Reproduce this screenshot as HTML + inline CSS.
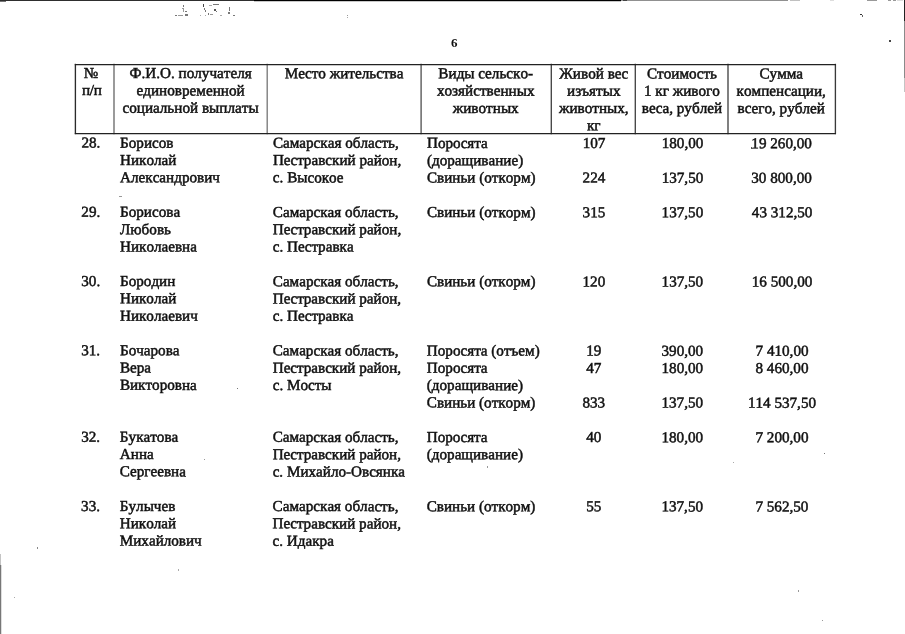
<!DOCTYPE html>
<html lang="ru"><head><meta charset="utf-8"><title>6</title>
<style>
html,body{margin:0;padding:0;background:#fff}
body{width:905px;height:634px;position:relative;overflow:hidden;font-family:"Liberation Serif","DejaVu Serif",serif;color:#111}
.t{position:absolute;font-size:15.15px;line-height:17px;white-space:nowrap;font-kerning:none;-webkit-text-stroke:0.5px #111;transform-origin:0 0}
.c{text-align:center;width:300px}
.h{font-size:15.2px}
.pp{letter-spacing:-0.3px}
.pn{position:absolute;width:300px;text-align:center;font-size:13px;font-weight:bold;line-height:14px}
.grid{position:absolute;left:0;top:0}
.rot{position:absolute;left:0;top:0;width:905px;height:634px;transform-origin:80px 140px;transform:rotate(0.045deg)}
</style></head><body>
<svg class="grid" width="905" height="634" viewBox="0 0 905 634" shape-rendering="crispEdges">
<rect x="0" y="0" width="254" height="1" fill="#2e2e2e"/>
<rect x="254" y="0" width="367" height="1" fill="#000"/>
<rect x="0" y="1" width="6" height="1" fill="#777"/>
<rect x="254" y="1" width="367" height="1" fill="#c8c8c8"/>
<rect x="623" y="0" width="4" height="1" fill="#444"/>
<rect x="621" y="0" width="2" height="1" fill="#999"/>
<rect x="627" y="0" width="161" height="1" fill="#909090"/>
<rect x="790" y="0" width="10" height="1" fill="#c0c0c0"/>
<rect x="830" y="0" width="4" height="1" fill="#ddd"/>
<rect x="867" y="0" width="10" height="1" fill="#999"/>
<rect x="888" y="0" width="3" height="1" fill="#999"/>
<rect x="893" y="0" width="3" height="1" fill="#999"/>
<rect x="897" y="0" width="6" height="1" fill="#ddd"/>
<rect x="904" y="0" width="1" height="21" fill="#222"/>
<rect x="904" y="21" width="1" height="57" fill="#8a8a8a"/>
<rect x="904" y="78" width="1" height="14" fill="#c4c4c4"/>
<rect x="0" y="554" width="1" height="11" fill="#c4c4c4"/>
<rect x="0" y="565" width="1" height="69" fill="#777"/>
<rect x="1" y="565" width="1" height="69" fill="#ddd"/>
<g fill="#777">
<rect x="175" y="15" width="2" height="1"/><rect x="178" y="15" width="5" height="1" fill="#999"/><rect x="185" y="14" width="3" height="2"/>
<rect x="183" y="5" width="1" height="2"/><rect x="182" y="8" width="2" height="1" fill="#999"/><rect x="183" y="9" width="1" height="3" fill="#999"/><rect x="185" y="11" width="2" height="1"/>
<rect x="203" y="4" width="1" height="3" fill="#444"/><rect x="204" y="8" width="1" height="2"/><rect x="205" y="10" width="1" height="2"/>
<rect x="209" y="5" width="3" height="1" fill="#aaa"/><rect x="213" y="4" width="6" height="1"/><rect x="214" y="9" width="2" height="2" fill="#555"/><rect x="216" y="11" width="1" height="1"/>
<rect x="208" y="13" width="1" height="2"/><rect x="210" y="14" width="3" height="1" fill="#999"/><rect x="200" y="15" width="1" height="1" fill="#aaa"/><rect x="205" y="15" width="1" height="1" fill="#aaa"/>
<rect x="220" y="15" width="2" height="1" fill="#aaa"/><rect x="229" y="7" width="1" height="4"/><rect x="228" y="12" width="2" height="2"/><rect x="233" y="15" width="2" height="1"/>
<rect x="347" y="15" width="1" height="1" fill="#999"/><rect x="347" y="17" width="1" height="1" fill="#aaa"/>
<rect x="860" y="14" width="2" height="1" fill="#333"/><rect x="862" y="15" width="1" height="2" fill="#666"/>
<rect x="889" y="40" width="2" height="2" fill="#444"/>
<rect x="119" y="196" width="3" height="1" fill="#999"/>
<rect x="237" y="388" width="1" height="1"/><rect x="487" y="466" width="1" height="2" fill="#999"/>
<rect x="824" y="453" width="1" height="1"/><rect x="733" y="462" width="1" height="1" fill="#aaa"/>
<rect x="798" y="590" width="1" height="2" fill="#999"/><rect x="822" y="620" width="1" height="1" fill="#999"/>
<rect x="37" y="547" width="1" height="2" fill="#888"/><rect x="14" y="597" width="1" height="1" fill="#aaa"/>
<rect x="178" y="569" width="1" height="2" fill="#aaa"/><rect x="204" y="459" width="1" height="1" fill="#999"/>
<rect x="751" y="147" width="1" height="2" fill="#555"/><rect x="752" y="148" width="1" height="1" fill="#999"/>
</g>
</svg>
<svg class="grid" width="905" height="634" viewBox="0 0 905 634">
<line x1="75.4" y1="63.800000000000004" x2="75.4" y2="134.15" stroke="#2b2b2b" stroke-width="1.35"/>
<line x1="114.0" y1="63.800000000000004" x2="114.0" y2="134.15" stroke="#6a6a6a" stroke-width="1.35"/>
<line x1="267.2" y1="63.800000000000004" x2="267.2" y2="134.15" stroke="#7a7a7a" stroke-width="1.35"/>
<line x1="421.1" y1="63.800000000000004" x2="421.1" y2="134.15" stroke="#555" stroke-width="1.35"/>
<line x1="551.3" y1="63.800000000000004" x2="551.3" y2="134.15" stroke="#444" stroke-width="1.35"/>
<line x1="635.3" y1="63.800000000000004" x2="635.3" y2="134.15" stroke="#444" stroke-width="1.35"/>
<line x1="728" y1="63.800000000000004" x2="728" y2="134.15" stroke="#444" stroke-width="1.35"/>
<line x1="835.4" y1="63.800000000000004" x2="835.4" y2="134.15" stroke="#3a3a3a" stroke-width="1.35"/>
<line x1="74.80000000000001" y1="64.5" x2="836.0" y2="64.5" stroke="#222" stroke-width="1.25"/>
<line x1="74.80000000000001" y1="133.65" x2="836.0" y2="133.65" stroke="#222" stroke-width="1.25"/>
</svg>
<span class="pn" style="left:304px;top:36px;transform:translate(0.25px,0.4px) rotate(0.001deg)">6</span>
<div class="rot">
<span class="t c h" style="left:-59px;top:64px;transform:translate(0.05px,0.00px)">№</span>
<span class="t c h pp" style="left:-59px;top:80px;transform:translate(0.65px,0.90px)">п/п</span>
<span class="t c h" style="left:40px;top:64px;transform:translate(0.50px,0.00px)">Ф.И.О. получателя</span>
<span class="t c h" style="left:40px;top:81px;transform:translate(0.50px,0.30px)">единовременной</span>
<span class="t c h" style="left:40px;top:98px;transform:translate(0.50px,0.60px)">социальной выплаты</span>
<span class="t c h" style="left:194px;top:64px;transform:translate(0.00px,0.00px)">Место жительства</span>
<span class="t c h" style="left:335px;top:64px;transform:translate(0.70px,0.00px)">Виды сельско-</span>
<span class="t c h" style="left:335px;top:81px;transform:translate(0.70px,0.30px)">хозяйственных</span>
<span class="t c h" style="left:335px;top:98px;transform:translate(0.70px,0.60px)">животных</span>
<span class="t c h" style="left:443px;top:64px;transform:translate(0.75px,0.00px)">Живой вес</span>
<span class="t c h" style="left:443px;top:81px;transform:translate(0.75px,0.30px)">изъятых</span>
<span class="t c h" style="left:443px;top:98px;transform:translate(0.75px,0.60px)">животных,</span>
<span class="t c h" style="left:443px;top:115px;transform:translate(0.75px,0.80px)">кг</span>
<span class="t c h" style="left:531px;top:64px;transform:translate(0.90px,0.00px)">Стоимость</span>
<span class="t c h" style="left:531px;top:81px;transform:translate(0.90px,0.30px)">1 кг живого</span>
<span class="t c h" style="left:531px;top:98px;transform:translate(0.90px,0.60px)">веса, рублей</span>
<span class="t c h" style="left:631px;top:64px;transform:translate(0.20px,0.00px)">Сумма</span>
<span class="t c h" style="left:631px;top:81px;transform:translate(0.20px,0.30px)">компенсации,</span>
<span class="t c h" style="left:631px;top:98px;transform:translate(0.20px,0.60px)">всего, рублей</span>
<span class="t " style="left:81px;top:133px;transform:translate(0.40px,0.60px)">28.</span>
<span class="t " style="left:120px;top:133px;transform:translate(0.10px,0.60px)">Борисов</span>
<span class="t " style="left:120px;top:150px;transform:translate(0.10px,0.90px)">Николай</span>
<span class="t " style="left:120px;top:168px;transform:translate(0.10px,0.20px)">Александрович</span>
<span class="t " style="left:272px;top:133px;transform:translate(0.90px,0.60px)">Самарская область,</span>
<span class="t " style="left:272px;top:150px;transform:translate(0.90px,0.90px)">Пестравский район,</span>
<span class="t " style="left:272px;top:168px;transform:translate(0.90px,0.20px)">с. Высокое</span>
<span class="t " style="left:427px;top:133px;transform:translate(0.00px,0.60px)">Поросята</span>
<span class="t " style="left:427px;top:150px;transform:translate(0.00px,0.90px)">(доращивание)</span>
<span class="t " style="left:427px;top:168px;transform:translate(0.00px,0.20px)">Свиньи (откорм)</span>
<span class="t c " style="left:444px;top:133px;transform:translate(0.00px,0.60px)">107</span>
<span class="t c " style="left:532px;top:133px;transform:translate(0.50px,0.60px)">180,00</span>
<span class="t c " style="left:631px;top:133px;transform:translate(0.60px,0.60px)">19 260,00</span>
<span class="t c " style="left:444px;top:168px;transform:translate(0.00px,0.20px)">224</span>
<span class="t c " style="left:532px;top:168px;transform:translate(0.50px,0.20px)">137,50</span>
<span class="t c " style="left:631px;top:168px;transform:translate(0.60px,0.20px)">30 800,00</span>
<span class="t " style="left:81px;top:202px;transform:translate(0.40px,0.80px)">29.</span>
<span class="t " style="left:120px;top:202px;transform:translate(0.10px,0.80px)">Борисова</span>
<span class="t " style="left:120px;top:220px;transform:translate(0.10px,0.10px)">Любовь</span>
<span class="t " style="left:120px;top:237px;transform:translate(0.10px,0.40px)">Николаевна</span>
<span class="t " style="left:272px;top:202px;transform:translate(0.90px,0.80px)">Самарская область,</span>
<span class="t " style="left:272px;top:220px;transform:translate(0.90px,0.10px)">Пестравский район,</span>
<span class="t " style="left:272px;top:237px;transform:translate(0.90px,0.40px)">с. Пестравка</span>
<span class="t " style="left:427px;top:202px;transform:translate(0.00px,0.80px)">Свиньи (откорм)</span>
<span class="t c " style="left:444px;top:202px;transform:translate(0.00px,0.80px)">315</span>
<span class="t c " style="left:532px;top:202px;transform:translate(0.50px,0.80px)">137,50</span>
<span class="t c " style="left:632px;top:202px;transform:translate(0.20px,0.80px)">43 312,50</span>
<span class="t " style="left:81px;top:272px;transform:translate(0.40px,0.00px)">30.</span>
<span class="t " style="left:120px;top:272px;transform:translate(0.10px,0.00px)">Бородин</span>
<span class="t " style="left:120px;top:289px;transform:translate(0.10px,0.30px)">Николай</span>
<span class="t " style="left:120px;top:306px;transform:translate(0.10px,0.60px)">Николаевич</span>
<span class="t " style="left:272px;top:272px;transform:translate(0.90px,0.00px)">Самарская область,</span>
<span class="t " style="left:272px;top:289px;transform:translate(0.90px,0.30px)">Пестравский район,</span>
<span class="t " style="left:272px;top:306px;transform:translate(0.90px,0.60px)">с. Пестравка</span>
<span class="t " style="left:427px;top:272px;transform:translate(0.00px,0.00px)">Свиньи (откорм)</span>
<span class="t c " style="left:444px;top:272px;transform:translate(0.00px,0.00px)">120</span>
<span class="t c " style="left:532px;top:272px;transform:translate(0.50px,0.00px)">137,50</span>
<span class="t c " style="left:632px;top:272px;transform:translate(0.20px,0.00px)">16 500,00</span>
<span class="t " style="left:81px;top:341px;transform:translate(0.40px,0.20px)">31.</span>
<span class="t " style="left:120px;top:341px;transform:translate(0.10px,0.20px)">Бочарова</span>
<span class="t " style="left:120px;top:358px;transform:translate(0.10px,0.50px)">Вера</span>
<span class="t " style="left:120px;top:375px;transform:translate(0.10px,0.80px)">Викторовна</span>
<span class="t " style="left:272px;top:341px;transform:translate(0.90px,0.20px)">Самарская область,</span>
<span class="t " style="left:272px;top:358px;transform:translate(0.90px,0.50px)">Пестравский район,</span>
<span class="t " style="left:272px;top:375px;transform:translate(0.90px,0.80px)">с. Мосты</span>
<span class="t " style="left:427px;top:341px;transform:translate(0.00px,0.20px)">Поросята (отъем)</span>
<span class="t " style="left:427px;top:358px;transform:translate(0.00px,0.50px)">Поросята</span>
<span class="t " style="left:427px;top:375px;transform:translate(0.00px,0.80px)">(доращивание)</span>
<span class="t " style="left:427px;top:393px;transform:translate(0.00px,0.10px)">Свиньи (откорм)</span>
<span class="t c " style="left:444px;top:341px;transform:translate(0.00px,0.20px)">19</span>
<span class="t c " style="left:532px;top:341px;transform:translate(0.50px,0.20px)">390,00</span>
<span class="t c " style="left:632px;top:341px;transform:translate(0.20px,0.20px)">7 410,00</span>
<span class="t c " style="left:444px;top:358px;transform:translate(0.00px,0.50px)">47</span>
<span class="t c " style="left:532px;top:358px;transform:translate(0.50px,0.50px)">180,00</span>
<span class="t c " style="left:632px;top:358px;transform:translate(0.20px,0.50px)">8 460,00</span>
<span class="t c " style="left:444px;top:393px;transform:translate(0.00px,0.10px)">833</span>
<span class="t c " style="left:532px;top:393px;transform:translate(0.50px,0.10px)">137,50</span>
<span class="t c " style="left:632px;top:393px;transform:translate(0.20px,0.10px)">114 537,50</span>
<span class="t " style="left:81px;top:427px;transform:translate(0.40px,0.70px)">32.</span>
<span class="t " style="left:120px;top:427px;transform:translate(0.10px,0.70px)">Букатова</span>
<span class="t " style="left:120px;top:445px;transform:translate(0.10px,0.00px)">Анна</span>
<span class="t " style="left:120px;top:462px;transform:translate(0.10px,0.30px)">Сергеевна</span>
<span class="t " style="left:272px;top:427px;transform:translate(0.90px,0.70px)">Самарская область,</span>
<span class="t " style="left:272px;top:445px;transform:translate(0.90px,0.00px)">Пестравский район,</span>
<span class="t " style="left:272px;top:462px;transform:translate(0.90px,0.30px)">с. Михайло-Овсянка</span>
<span class="t " style="left:427px;top:427px;transform:translate(0.00px,0.70px)">Поросята</span>
<span class="t " style="left:427px;top:445px;transform:translate(0.00px,0.00px)">(доращивание)</span>
<span class="t c " style="left:444px;top:427px;transform:translate(0.00px,0.70px)">40</span>
<span class="t c " style="left:532px;top:427px;transform:translate(0.50px,0.70px)">180,00</span>
<span class="t c " style="left:632px;top:427px;transform:translate(0.20px,0.70px)">7 200,00</span>
<span class="t " style="left:81px;top:496px;transform:translate(0.40px,0.90px)">33.</span>
<span class="t " style="left:120px;top:496px;transform:translate(0.10px,0.90px)">Булычев</span>
<span class="t " style="left:120px;top:514px;transform:translate(0.10px,0.20px)">Николай</span>
<span class="t " style="left:120px;top:531px;transform:translate(0.10px,0.50px)">Михайлович</span>
<span class="t " style="left:272px;top:496px;transform:translate(0.90px,0.90px)">Самарская область,</span>
<span class="t " style="left:272px;top:514px;transform:translate(0.90px,0.20px)">Пестравский район,</span>
<span class="t " style="left:272px;top:531px;transform:translate(0.90px,0.50px)">с. Идакра</span>
<span class="t " style="left:427px;top:496px;transform:translate(0.00px,0.90px)">Свиньи (откорм)</span>
<span class="t c " style="left:444px;top:496px;transform:translate(0.00px,0.90px)">55</span>
<span class="t c " style="left:532px;top:496px;transform:translate(0.50px,0.90px)">137,50</span>
<span class="t c " style="left:632px;top:496px;transform:translate(0.20px,0.90px)">7 562,50</span>
</div>
</body></html>
